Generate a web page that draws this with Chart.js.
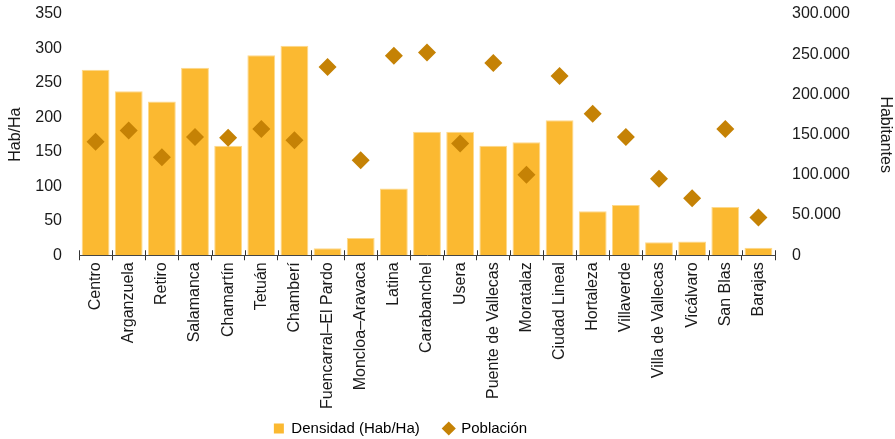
<!DOCTYPE html>
<html>
<head>
<meta charset="utf-8">
<script src="https://cdn.jsdelivr.net/npm/chart.js@4.4.0/dist/chart.umd.min.js"></script>
<style>
  html, body { margin: 0; padding: 0; background: #fff; }
  #wrap { width: 895px; height: 439px; }
</style>
</head>
<body>
<div id="wrap"><canvas id="densChart"></canvas></div>
<script>
// Distritos de Madrid
const districts = ['Centro', 'Arganzuela', 'Retiro', 'Salamanca', 'Chamartín', 'Tetuán', 'Chamberí',
  'Fuencarral–El Pardo', 'Moncloa–Aravaca', 'Latina', 'Carabanchel', 'Usera', 'Puente de Vallecas',
  'Moratalaz', 'Ciudad Lineal', 'Hortaleza', 'Villaverde', 'Villa de Vallecas', 'Vicálvaro',
  'San Blas', 'Barajas'];
const density = [269, 238, 223, 272, 159, 290, 304, 10, 25, 97, 179, 179, 159, 164, 196, 64, 73, 19, 20, 70, 11];
const population = [141000, 155000, 122000, 147000, 146000, 157000, 143000, 234000, 118000, 248000,
  252000, 139000, 239000, 100000, 223000, 176000, 147000, 95000, 71000, 157000, 47000];

const densTicks = [0, 50, 100, 150, 200, 250, 300, 350];
const popTicks = [0, 50000, 100000, 150000, 200000, 250000, 300000];

const FONT = '"Liberation Sans", Arial, sans-serif';
const BAR = '#FBB931';
const DIAMOND = '#C58205';

function thousands(v) {
  return String(v).replace(/\B(?=(\d{3})+(?!\d))/g, '.');
}

Chart.defaults.font.family = FONT;
Chart.defaults.font.size = 16;
Chart.defaults.color = '#1a1a1a';

// small ticks poking up above the x axis, and legend shifted like the original
const extras = {
  id: 'extras',
  afterLayout(chart) {
    const lg = chart.legend;
    if (lg) {
      lg.left -= 47; lg.right -= 47;
      lg.top += 9; lg.bottom += 9;
    }
    // let the long rotated labels run past the shortened axis box
    chart.scales.x.bottom += 30;
  },
  afterDatasetsDraw(chart) {
    const x = chart.scales.x;
    const c = chart.ctx;
    const y = x.top;
    c.save();
    c.strokeStyle = '#333';
    c.lineWidth = 1;
    for (let i = 0; i <= districts.length; i++) {
      let px;
      if (i === 0) px = x.left;
      else if (i === districts.length) px = x.right;
      else px = (x.getPixelForValue(i - 1) + x.getPixelForValue(i)) / 2;
      px = Math.round(px) + 0.5;
      c.beginPath();
      c.moveTo(px, y - 5);
      c.lineTo(px, y);
      c.stroke();
    }
    c.restore();
  }
};

const ctx = document.getElementById('densChart');
new Chart(ctx, {
  data: {
    labels: districts,
    datasets: [
      {
        type: 'scatter',
        label: 'Población',
        data: population,
        yAxisID: 'yPop',
        pointStyle: 'rectRot',
        pointRadius: 9,
        pointHoverRadius: 9,
        backgroundColor: DIAMOND,
        borderColor: DIAMOND,
        borderWidth: 0,
        showLine: false,
        order: 0
      },
      {
        type: 'bar',
        label: 'Densidad (Hab/Ha)',
        data: density,
        yAxisID: 'yDens',
        backgroundColor: BAR,
        borderColor: '#FDD98C',
        borderWidth: 1,
        barPercentage: 0.84,
        categoryPercentage: 1.0,
        order: 1
      }
    ]
  },
  options: {
    responsive: true,
    maintainAspectRatio: false,
    animation: false,
    layout: { padding: { left: 0, right: 0, top: 14, bottom: 2 } },
    plugins: {
      tooltip: { enabled: false },
      legend: {
        position: 'bottom',
        reverse: true,
        labels: {
          usePointStyle: true,
          boxWidth: 10,
          boxHeight: 10,
          padding: 24,
          color: '#1a1a1a',
          font: { size: 15 },
          generateLabels(chart) {
            return chart.data.datasets.map((ds, i) => ({
              text: ds.label,
              fillStyle: ds.type === 'bar' ? BAR : DIAMOND,
              strokeStyle: ds.type === 'bar' ? BAR : DIAMOND,
              lineWidth: 0,
              pointStyle: ds.type === 'bar' ? 'rect' : 'rectRot',
              datasetIndex: i,
              hidden: false
            }));
          }
        }
      }
    },
    scales: {
      x: {
        type: 'category',
        offset: true,
        grid: {
          offset: true,
          drawOnChartArea: false,
          drawTicks: true,
          tickLength: 5,
          color: '#333'
        },
        border: { display: true, color: '#444', width: 1 },
        ticks: {
          autoSkip: false,
          minRotation: 90,
          maxRotation: 90,
          padding: 2,
          font: { size: 16 }
        },
        afterFit(scale) {
          scale.height -= 23;
          scale.paddingLeft = 0;
          scale.paddingRight = 0;
        }
      },
      yDens: {
        type: 'linear',
        position: 'left',
        min: 0,
        max: 350,
        grid: { display: false, drawTicks: false },
        border: { display: false },
        afterBuildTicks(scale) { scale.ticks = densTicks.map(v => ({ value: v })); },
        ticks: { padding: 17, font: { size: 16 } },
        title: { display: true, text: 'Hab/Ha', font: { size: 16 }, padding: { top: 6, bottom: 10 } },
        afterFit(scale) {
          scale.width = 79;
          scale.paddingTop = 0;
          scale.paddingBottom = 0;
        }
      },
      yPop: {
        type: 'linear',
        position: 'right',
        min: 0,
        max: 300000,
        grid: { display: false, drawTicks: false },
        border: { display: false },
        afterBuildTicks(scale) { scale.ticks = popTicks.map(v => ({ value: v })); },
        ticks: { padding: 17, font: { size: 16 }, callback: v => thousands(v) },
        title: { display: true, text: 'Habitantes', font: { size: 16 }, padding: { top: 0, bottom: 26 } },
        afterFit(scale) {
          scale.width = 120;
          scale.paddingTop = 0;
          scale.paddingBottom = 0;
        }
      }
    }
  },
  plugins: [extras]
});
</script>
</body>
</html>
